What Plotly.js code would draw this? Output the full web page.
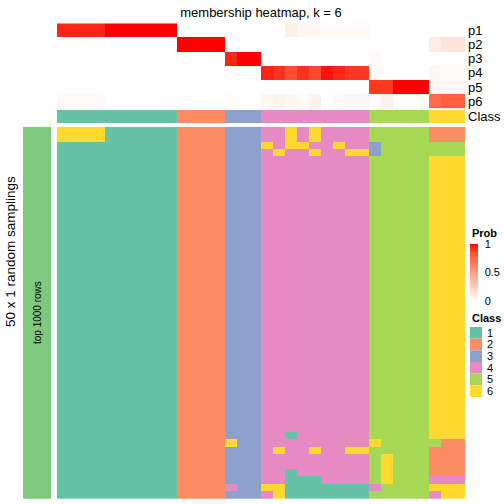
<!DOCTYPE html>
<html><head><meta charset="utf-8">
<script src="https://cdn.plot.ly/plotly-3.0.1.min.js"></script>
<style>html,body{margin:0;padding:0;background:#fff}#chart{width:504px;height:504px}</style>
</head><body><div id="chart"></div>
<script>
// ---- data ----
const chartTitle = 'membership heatmap, k = 6';
const probLabels = ['p1','p2','p3','p4','p5','p6'];
const p1 = [0.94,0.94,0.94,0.94,1,1,1,1,1,1, 0,0,0,0, 0,0,0, 0,0,0.08,0.04,0.04,0.035,0.035,0.035,0.035, 0,0,0,0,0, 0,0,0];
const p2 = [0,0,0,0,0,0,0,0,0,0, 1,1,1,1, 0,0,0, 0,0,0,0,0,0,0,0,0, 0,0,0,0,0, 0.1,0.13,0.13];
const p3 = [0,0,0,0,0,0,0,0,0,0, 0,0,0,0, 0.94,1,1, 0,0,0,0,0,0,0,0,0, 0.03,0,0,0,0, 0,0,0];
const p4 = [0,0,0,0,0,0,0,0,0,0, 0,0,0,0, 0.015,0,0, 0.94,0.92,0.84,0.92,0.86,0.97,0.94,0.91,0.91, 0.02,0,0,0,0, 0.04,0.025,0.025];
const p5 = [0,0,0,0,0,0,0,0,0,0, 0,0,0,0, 0,0,0, 0,0,0,0,0,0,0,0,0, 0.91,0.91,1,1,1, 0.05,0.04,0.04];
const p6 = [0.035,0.035,0.035,0.035,0,0,0,0,0,0, 0,0,0,0, 0.015,0,0, 0.04,0.07,0.05,0.015,0.07,0,0.025,0.04,0.04, 0.02,0.07,0,0,0, 0.74,0.78,0.78];
const columnClass = [1,1,1,1,1,1,1,1,1,1, 2,2,2,2, 3,3,3, 4,4,4,4,4,4,4,4,4, 5,5,5,5,5, 6,6,6];
const classLabels = ['1','2','3','4','5','6'];
const classColors = ['#66C2A5','#FC8D62','#8DA0CB','#E78AC3','#A6D854','#FFD92F'];
const probTicks = [0, 0.5, 1];
const rowGroupLabel = 'top 1000 rows';
const sideTitle = '50 x 1 random samplings';
// one string per random sampling (row), one digit (class) per column
const samplingRows = [
 '6666111111'+'2222'+'333'+'446464444'+'55555'+'222',
 '6666111111'+'2222'+'333'+'446464444'+'55555'+'222',
 '1111111111'+'2222'+'333'+'646644644'+'35555'+'555',
 '1111111111'+'2222'+'333'+'464464466'+'35555'+'555',
 '1111111111'+'2222'+'333'+'444444444'+'55555'+'666',
 '1111111111'+'2222'+'333'+'444444444'+'55555'+'666',
 '1111111111'+'2222'+'333'+'444444444'+'55555'+'666',
 '1111111111'+'2222'+'333'+'444444444'+'55555'+'666',
 '1111111111'+'2222'+'333'+'444444444'+'55555'+'666',
 '1111111111'+'2222'+'333'+'444444444'+'55555'+'666',
 '1111111111'+'2222'+'333'+'444444444'+'55555'+'666',
 '1111111111'+'2222'+'333'+'444444444'+'55555'+'666',
 '1111111111'+'2222'+'333'+'444444444'+'55555'+'666',
 '1111111111'+'2222'+'333'+'444444444'+'55555'+'666',
 '1111111111'+'2222'+'333'+'444444444'+'55555'+'666',
 '1111111111'+'2222'+'333'+'444444444'+'55555'+'666',
 '1111111111'+'2222'+'333'+'444444444'+'55555'+'666',
 '1111111111'+'2222'+'333'+'444444444'+'55555'+'666',
 '1111111111'+'2222'+'333'+'444444444'+'55555'+'666',
 '1111111111'+'2222'+'333'+'444444444'+'55555'+'666',
 '1111111111'+'2222'+'333'+'444444444'+'55555'+'666',
 '1111111111'+'2222'+'333'+'444444444'+'55555'+'666',
 '1111111111'+'2222'+'333'+'444444444'+'55555'+'666',
 '1111111111'+'2222'+'333'+'444444444'+'55555'+'666',
 '1111111111'+'2222'+'333'+'444444444'+'55555'+'666',
 '1111111111'+'2222'+'333'+'444444444'+'55555'+'666',
 '1111111111'+'2222'+'333'+'444444444'+'55555'+'666',
 '1111111111'+'2222'+'333'+'444444444'+'55555'+'666',
 '1111111111'+'2222'+'333'+'444444444'+'55555'+'666',
 '1111111111'+'2222'+'333'+'444444444'+'55555'+'666',
 '1111111111'+'2222'+'333'+'444444444'+'55555'+'666',
 '1111111111'+'2222'+'333'+'444444444'+'55555'+'666',
 '1111111111'+'2222'+'333'+'444444444'+'55555'+'666',
 '1111111111'+'2222'+'333'+'444444444'+'55555'+'666',
 '1111111111'+'2222'+'333'+'444444444'+'55555'+'666',
 '1111111111'+'2222'+'333'+'444444444'+'55555'+'666',
 '1111111111'+'2222'+'333'+'444444444'+'55555'+'666',
 '1111111111'+'2222'+'333'+'444444444'+'55555'+'666',
 '1111111111'+'2222'+'333'+'444444444'+'55555'+'666',
 '1111111111'+'2222'+'333'+'444444444'+'55555'+'666',
 '1111111111'+'2222'+'333'+'444444444'+'55555'+'666',
 '1111111111'+'2222'+'333'+'441444444'+'55555'+'666',
 '1111111111'+'2222'+'633'+'444444444'+'65555'+'522',
 '1111111111'+'2222'+'333'+'464464466'+'55555'+'222',
 '1111111111'+'2222'+'333'+'444444444'+'56555'+'222',
 '1111111111'+'2222'+'333'+'444444444'+'56555'+'222',
 '1111111111'+'2222'+'333'+'441444444'+'56555'+'222',
 '1111111111'+'2222'+'333'+'441114444'+'56555'+'444',
 '1111111111'+'2222'+'433'+'661111111'+'45555'+'666',
 '1111111111'+'2222'+'333'+'461111111'+'55555'+'466'
];

// ---- build ----
const P = v => v/504;          // px -> paper x
const Q = v => 1 - v/504;      // px -> paper y
const nCol = columnClass.length;
const colIdx = columnClass.map((_, i) => i);
const mainZ = samplingRows.map(s => s.split('').map(Number));
const rowIdx = mainZ.map((_, i) => i);

function discreteScale(colors){
  const n = colors.length, out = [];
  colors.forEach((c, i) => { out.push([i/n, c]); out.push([(i+1)/n, c]); });
  return out;
}
const classScale = discreteScale(classColors);
const probScale = [[0,'#FFFFFF'],[0.1,'#FFECE5'],[0.25,'#FFCFBF'],[0.5,'#FF9E81'],[0.75,'#FF6846'],[0.9,'#FF3E22'],[1,'#FF0000']];

const traces = [
  { type:'heatmap', x: colIdx, y: probLabels.map((_, i) => i), z:[p1,p2,p3,p4,p5,p6],
    xaxis:'x', yaxis:'y3', colorscale: probScale, zmin:0, zmax:1, hoverinfo:'skip',
    colorbar:{ x:P(470), xanchor:'left', y:Q(244), yanchor:'top', len:57, lenmode:'pixels',
      thickness:8, thicknessmode:'pixels', outlinewidth:0, xpad:0, ypad:0,
      tickvals: probTicks, ticktext: probTicks.map(String), ticks:'outside', ticklen:5, tickcolor:'#ffffff',
      tickfont:{ size:11, color:'#000' } } },
  { type:'heatmap', x: colIdx, y:[0], z:[columnClass], xaxis:'x', yaxis:'y2',
    colorscale: classScale, zmin:0.5, zmax:6.5, showscale:false, hoverinfo:'skip' },
  { type:'heatmap', x: colIdx, y: rowIdx, z: mainZ, xaxis:'x', yaxis:'y',
    colorscale: classScale, zmin:0.5, zmax:6.5, showscale:false, hoverinfo:'skip' },
  { type:'heatmap', x:[0,1], y:[-0.5, mainZ.length-0.5], z:[[1]], xaxis:'x2', yaxis:'y',
    colorscale:[[0,'#7FC97F'],[1,'#7FC97F']], showscale:false, hoverinfo:'skip' }
];

const annotations = [
  { text:'<b>Prob</b>', x:P(469.5), y:Q(233), xref:'paper', yref:'paper', xanchor:'left', yanchor:'middle', showarrow:false, font:{size:11} },
  { text:'<b>Class</b>', x:P(469.5), y:Q(318), xref:'paper', yref:'paper', xanchor:'left', yanchor:'middle', showarrow:false, font:{size:11} },
  { text: sideTitle, x:P(10), y:0.5, xref:'paper', yref:'paper', xanchor:'center', yanchor:'middle', textangle:-90, showarrow:false, font:{size:13.5} },
  { text: rowGroupLabel, x:P(37), y:Q(313), xref:'paper', yref:'paper', xanchor:'center', yanchor:'middle', textangle:-90, showarrow:false, font:{size:10} }
];
const shapes = [];
classLabels.forEach((lab, i) => {
  const y0 = 327 + i*11.67;
  shapes.push({ type:'rect', xref:'paper', yref:'paper', x0:P(470), x1:P(482), y0:Q(y0), y1:Q(y0+11.67),
    fillcolor: classColors[i], line:{width:0} });
  annotations.push({ text: lab, x:P(485), y:Q(y0+5.8), xref:'paper', yref:'paper', xanchor:'left', yanchor:'middle', showarrow:false, font:{size:11} });
});

const hidden = { showgrid:false, zeroline:false, showline:false, ticks:'', showticklabels:false };
const layout = {
  width:504, height:504, margin:{l:0,r:0,t:0,b:0},
  paper_bgcolor:'#ffffff', plot_bgcolor:'#ffffff',
  font:{ family:'"Liberation Sans", Arial, sans-serif', size:13, color:'#000' },
  title:{ text: chartTitle, x:P(261), xanchor:'center', xref:'paper', y:Q(12), yanchor:'middle', yref:'paper', font:{size:13} },
  showlegend:false,
  xaxis: Object.assign({ domain:[P(57), P(465)], range:[-0.5, nCol-0.5], anchor:'y' }, hidden),
  xaxis2: Object.assign({ domain:[P(23), P(51)], range:[0,1], anchor:'y' }, hidden),
  yaxis: Object.assign({ domain:[Q(499), Q(126.7)], range:[mainZ.length-0.5, -0.5], anchor:'x' }, hidden),
  yaxis2: { domain:[Q(123.3), Q(110)], range:[0.5,-0.5], anchor:'x', side:'right', tickvals:[0], ticktext:['Class'],
    showgrid:false, zeroline:false, showline:false, ticks:'', tickfont:{size:13}, ticklabelstandoff:2 },
  yaxis3: { domain:[Q(108.3), Q(23.3)], range:[probLabels.length-0.5, -0.5], anchor:'x', side:'right',
    tickvals: probLabels.map((_, i) => i), ticktext: probLabels,
    showgrid:false, zeroline:false, showline:false, ticks:'', tickfont:{size:13}, ticklabelstandoff:2 },
  annotations, shapes
};
Plotly.newPlot('chart', traces, layout, { staticPlot:true, displayModeBar:false });
</script>
</body></html>
